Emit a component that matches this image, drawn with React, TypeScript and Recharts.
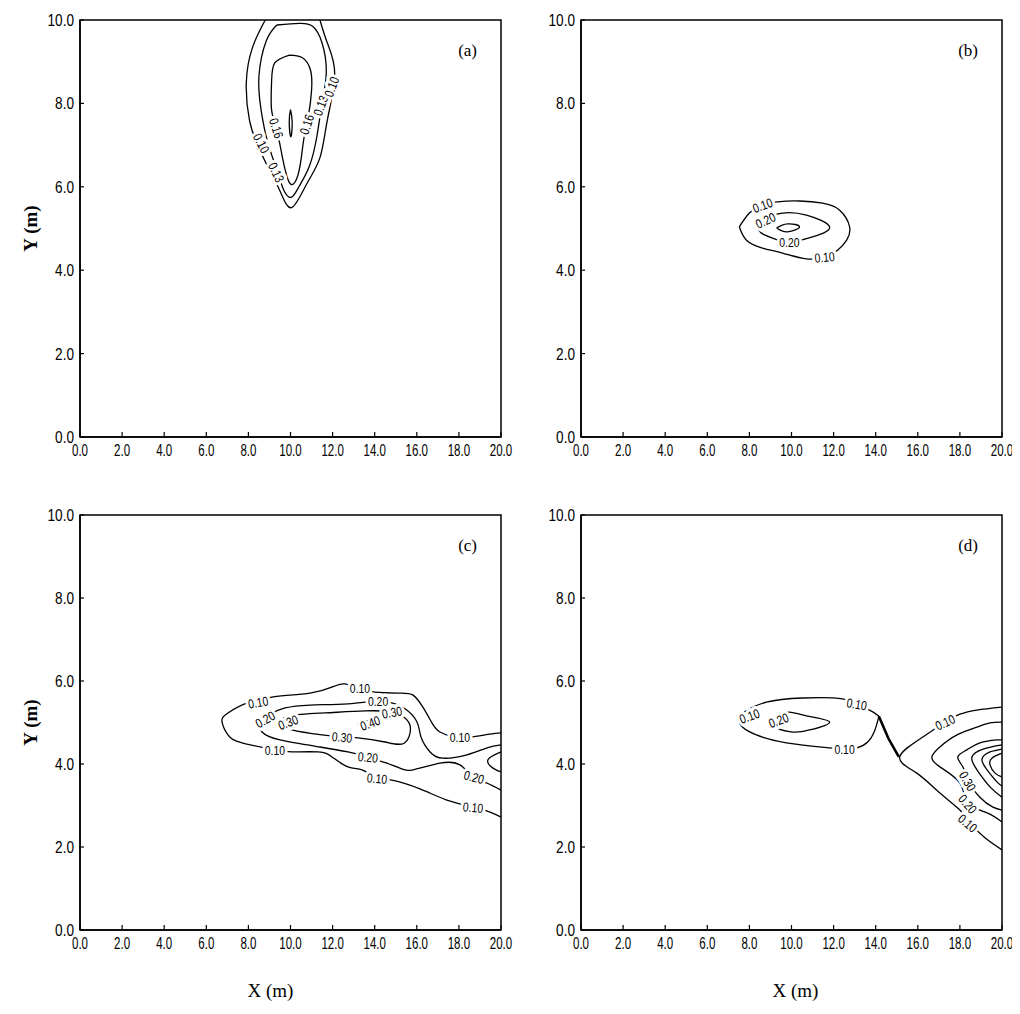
import React from 'react'
import { ScatterChart, Scatter, XAxis, YAxis, ReferenceArea, Label } from 'recharts'

type Tag = { x: number; y: number; text: string; angle: number }

const xTicks = [0, 2, 4, 6, 8, 10, 12, 14, 16, 18, 20]
const yTicks = [0, 2, 4, 6, 8, 10]

// panel (a) contours, [x, y] in metres
const a010 = [[8.8, 10.0], [8.2, 9.35], [7.9, 8.5], [8.05, 7.6], [8.4, 7.05], [8.9, 6.5], [9.5, 5.9], [10.05, 5.5], [10.75, 6.05], [11.4, 6.7], [11.75, 7.6], [12.1, 8.7], [11.75, 9.45], [11.4, 10.0]]
const a013 = [[9.35, 9.88], [8.85, 9.5], [8.5, 8.65], [8.6, 7.85], [8.9, 7.1], [9.35, 6.4], [9.7, 5.9], [10.05, 5.75], [10.4, 6.0], [10.9, 6.5], [11.25, 7.2], [11.5, 8.0], [11.7, 8.75], [11.5, 9.45], [11.05, 9.85], [10.4, 9.92], [9.35, 9.88]]
const a016 = [[9.95, 9.16], [9.25, 8.97], [9.1, 8.5], [9.1, 7.85], [9.35, 7.35], [9.6, 6.75], [9.95, 6.1], [10.3, 6.2], [10.5, 6.65], [10.65, 7.2], [10.85, 7.7], [11.0, 8.3], [10.95, 8.8], [10.55, 9.1], [9.95, 9.16]]
const a019 = [[10.0, 7.85], [10.08, 7.55], [10.02, 7.2], [9.94, 7.55], [10.0, 7.85]]
const labelsA: Tag[] = [
  { x: 8.63, y: 7.05, text: '0.10', angle: 62 },
  { x: 9.34, y: 6.35, text: '0.13', angle: 65 },
  { x: 9.34, y: 7.41, text: '0.16', angle: 72 },
  { x: 10.76, y: 7.5, text: '0.16', angle: -72 },
  { x: 11.42, y: 7.95, text: '0.13', angle: -70 },
  { x: 11.94, y: 8.4, text: '0.10', angle: -70 },
]

// panel (b)
const b010 = [[7.52, 5.04], [8.0, 5.37], [8.57, 5.56], [9.33, 5.64], [10.38, 5.66], [11.48, 5.61], [12.29, 5.44], [12.76, 5.04], [12.62, 4.72], [12.19, 4.48], [11.57, 4.32], [10.71, 4.27], [9.57, 4.41], [8.62, 4.53], [7.86, 4.72], [7.52, 5.04]]
const b020 = [[8.38, 5.01], [8.71, 5.23], [9.57, 5.37], [10.71, 5.32], [11.81, 5.04], [11.0, 4.8], [9.9, 4.68], [9.1, 4.77], [8.57, 4.89], [8.38, 5.01]]
const b030 = [[9.29, 5.01], [9.81, 5.11], [10.38, 5.04], [9.81, 4.92], [9.29, 5.01]]
const labelsB: Tag[] = [
  { x: 8.62, y: 5.56, text: '0.10', angle: -20 },
  { x: 8.76, y: 5.2, text: '0.20', angle: -25 },
  { x: 9.9, y: 4.68, text: '0.20', angle: 0 },
  { x: 11.57, y: 4.32, text: '0.10', angle: -5 },
]

// panel (c)
const c010 = [[20.0, 4.75], [19.48, 4.72], [18.53, 4.65], [17.81, 4.65], [17.1, 4.77], [16.72, 4.99], [16.29, 5.37], [15.82, 5.66], [15.2, 5.71], [14.01, 5.73], [13.21, 5.83], [12.59, 5.93], [12.11, 5.88], [10.93, 5.71], [9.12, 5.61], [8.46, 5.49], [7.98, 5.47], [7.03, 5.23], [6.75, 5.01], [7.03, 4.7], [7.7, 4.51], [9.26, 4.34], [10.07, 4.29], [11.31, 4.29], [11.97, 4.17], [12.73, 3.93], [13.4, 3.86], [14.01, 3.69], [14.82, 3.61], [16.15, 3.4], [17.43, 3.13], [18.67, 2.96], [19.48, 2.84], [20.0, 2.72]]
const c020 = [[20.0, 4.46], [19.34, 4.39], [18.38, 4.22], [17.24, 4.14], [16.63, 4.29], [16.2, 4.65], [16.01, 5.01], [15.44, 5.33], [14.82, 5.47], [14.16, 5.52], [12.73, 5.45], [10.93, 5.42], [9.74, 5.35], [9.03, 5.2], [8.55, 5.01], [8.65, 4.77], [9.5, 4.58], [11.4, 4.41], [12.73, 4.29], [13.68, 4.17], [14.39, 4.05], [15.2, 3.9], [15.82, 3.86], [17.1, 4.02], [18.05, 3.98], [18.67, 3.69], [19.33, 3.54], [20.0, 3.37]]
const c030 = [[9.41, 4.99], [9.98, 5.16], [11.64, 5.23], [13.54, 5.28], [14.82, 5.25], [15.45, 5.1], [15.7, 4.85], [15.4, 4.5], [14.49, 4.53], [13.21, 4.63], [12.45, 4.65], [11.5, 4.7], [10.07, 4.82], [9.41, 4.99]]
const c030edge = [[20.0, 4.29], [19.38, 4.1], [19.62, 3.9], [20.0, 3.81]]
const c040 = [[13.2, 4.95], [14.0, 5.12], [14.6, 5.2], [14.1, 5.03], [13.2, 4.95]]
const labelsC: Tag[] = [
  { x: 8.46, y: 5.49, text: '0.10', angle: -10 },
  { x: 13.3, y: 5.83, text: '0.10', angle: 0 },
  { x: 18.05, y: 4.65, text: '0.10', angle: 0 },
  { x: 9.26, y: 4.34, text: '0.10', angle: 0 },
  { x: 14.11, y: 3.66, text: '0.10', angle: 5 },
  { x: 18.67, y: 2.96, text: '0.10', angle: 5 },
  { x: 8.79, y: 5.08, text: '0.20', angle: -30 },
  { x: 14.16, y: 5.52, text: '0.20', angle: 0 },
  { x: 13.68, y: 4.17, text: '0.20', angle: 5 },
  { x: 18.72, y: 3.69, text: '0.20', angle: 15 },
  { x: 9.88, y: 5.01, text: '0.30', angle: -20 },
  { x: 14.82, y: 5.25, text: '0.30', angle: -10 },
  { x: 12.45, y: 4.65, text: '0.30', angle: 5 },
  { x: 13.78, y: 4.99, text: '0.40', angle: -20 },
]

// panel (d)
const d010left = [[14.15, 5.15], [13.71, 5.3], [13.1, 5.42], [12.43, 5.57], [10.52, 5.59], [8.81, 5.49], [7.76, 5.25], [7.52, 5.06], [7.67, 4.89], [8.33, 4.7], [9.76, 4.51], [11.81, 4.39], [12.52, 4.36], [13.1, 4.39], [13.62, 4.53], [13.95, 4.8], [14.15, 5.15]]
const d010neck = [[14.15, 5.15], [14.6, 4.62], [15.1, 4.17]]
const d020left = [[9.05, 5.01], [9.33, 5.16], [9.9, 5.25], [10.71, 5.16], [11.81, 5.01], [10.86, 4.82], [10.05, 4.77], [9.29, 4.87], [9.05, 5.01]]
const d010right = [[20.0, 5.37], [18.81, 5.3], [18.0, 5.2], [17.29, 5.01], [16.24, 4.65], [15.14, 4.17], [15.95, 3.78], [17.05, 3.3], [18.0, 2.89], [18.48, 2.58], [19.19, 2.22], [20.0, 1.93]]
const d020right = [[20.0, 5.01], [19.43, 4.99], [18.81, 4.89], [17.86, 4.7], [17.05, 4.41], [16.67, 4.17], [17.05, 3.93], [18.0, 3.54], [18.38, 3.06], [19.29, 2.82], [20.0, 2.6]]
const d030right = [[20.0, 4.58], [19.76, 4.58], [18.95, 4.51], [18.33, 4.34], [17.9, 4.17], [18.14, 3.93], [18.38, 3.61], [18.95, 3.2], [19.57, 2.96], [20.0, 2.89]]
const d040right = [[20.0, 4.46], [19.1, 4.36], [18.57, 4.17], [18.81, 3.86], [19.43, 3.45], [20.0, 3.2]]
const d050right = [[20.0, 4.36], [19.43, 4.29], [19.05, 4.12], [19.29, 3.86], [19.76, 3.57], [20.0, 3.47]]
const d060right = [[20.0, 4.26], [19.52, 4.14], [19.43, 3.98], [19.67, 3.78], [20.0, 3.69]]
const labelsD: Tag[] = [
  { x: 17.29, y: 5.01, text: '0.10', angle: -25 },
  { x: 18.38, y: 3.59, text: '0.30', angle: 60 },
  { x: 18.38, y: 3.04, text: '0.20', angle: 50 },
  { x: 18.38, y: 2.58, text: '0.10', angle: 40 },
  { x: 8.0, y: 5.16, text: '0.10', angle: -20 },
  { x: 13.1, y: 5.45, text: '0.10', angle: 10 },
  { x: 12.52, y: 4.36, text: '0.10', angle: 0 },
  { x: 9.38, y: 5.06, text: '0.20', angle: -20 },
]

const toPts = (arr: number[][]) => arr.map(([x, y]) => ({ x, y }))

const SANS = "'Liberation Sans', Arial, sans-serif"
const SERIF = "'Liberation Serif', 'DejaVu Serif', serif"

const Empty = () => <g />

const TagShape = (props: any) => {
  const { cx, cy, payload } = props
  return (
    <g transform={`translate(${cx} ${cy}) rotate(${payload.angle}) scale(0.8 1)`}>
      <text
        x={0}
        y={0}
        textAnchor="middle"
        dominantBaseline="central"
        fontFamily={SANS}
        fontSize={13}
        fill="#000"
        stroke="#fff"
        strokeWidth={7}
        strokeLinejoin="round"
        paintOrder="stroke"
      >
        {payload.text}
      </text>
    </g>
  )
}

const XTick = (props: any) => {
  const { x, y, payload } = props
  return (
    <g>
      <line x1={x} x2={x} y1={y - 8} y2={y - 13} stroke="#000" strokeWidth={1.2} />
      <g transform={`translate(${x} ${y + 11}) scale(0.72 1)`}>
        <text x={0} y={0} textAnchor="middle" fontFamily={SANS} fontSize={16} fill="#000">
          {payload.value.toFixed(1)}
        </text>
      </g>
    </g>
  )
}

const YTick = (props: any) => {
  const { x, y, payload } = props
  return (
    <g>
      <line x1={x + 6} x2={x + 10} y1={y} y2={y} stroke="#000" strokeWidth={1.2} />
      <g transform={`translate(${x} ${y + 6}) scale(0.8 1)`}>
        <text x={0} y={0} textAnchor="end" fontFamily={SANS} fontSize={17} fill="#000">
          {payload.value.toFixed(1)}
        </text>
      </g>
    </g>
  )
}

interface PanelProps {
  tag: string
  contours: number[][][]
  thick?: number[][][]
  labels: Tag[]
  left: number
  top: number
  plotHeight: number
  yTitle?: boolean
  xTitle?: boolean
  xTitleShift?: number
}

function Panel({ tag, contours, thick = [], labels, left, top, plotHeight, yTitle, xTitle, xTitleShift = 0 }: PanelProps) {
  const bottom = xTitle ? 45 : 21
  const height = 12 + plotHeight + 30 + bottom
  return (
    <div style={{ position: 'absolute', left, top }}>
      <ScatterChart width={511} height={height} margin={{ top: 12, right: 18, bottom, left: 22 }} style={{ overflow: 'visible' }}>
        <XAxis
          type="number"
          dataKey="x"
          domain={[0, 20]}
          ticks={xTicks}
          height={30}
          tickSize={0}
          tickMargin={8}
          tickLine={false}
          axisLine={{ stroke: '#000', strokeWidth: 1.5 }}
          tick={<XTick />}
          interval={0}
        >
          {xTitle && (
            <Label
              content={(p: any) => {
                const vb = p.viewBox
                const cx = vb.x + vb.width / 2 + xTitleShift
                return (
                  <text x={cx} y={vb.y + 60} textAnchor="middle" dominantBaseline="central" fontFamily={SERIF} fontSize={19} fill="#000">
                    X (m)
                  </text>
                )
              }}
            />
          )}
        </XAxis>
        <YAxis
          type="number"
          dataKey="y"
          domain={[0, 10]}
          ticks={yTicks}
          width={50}
          tickSize={0}
          tickMargin={6}
          tickLine={false}
          axisLine={{ stroke: '#000', strokeWidth: 1.5 }}
          tick={<YTick />}
          interval={0}
        >
          {yTitle && (
            <Label
              content={(p: any) => {
                const vb = p.viewBox
                const cx = vb.x
                const cy = vb.y + vb.height / 2
                return (
                  <text x={cx} y={cy} transform={`rotate(-90 ${cx} ${cy})`} textAnchor="middle" dominantBaseline="central" fontFamily={SERIF} fontWeight="bold" fontSize={19} fill="#000">
                    Y (m)
                  </text>
                )
              }}
            />
          )}
        </YAxis>
        <ReferenceArea x1={0} x2={20} y1={0} y2={10} fill="none" stroke="#000" strokeWidth={1.5} fillOpacity={0}>
          <Label value={tag} position="insideTopRight" offset={24} fontFamily={SERIF} fontSize={17} fill="#000" />
        </ReferenceArea>
        {contours.map((c, i) => (
          <Scatter
            key={`c${i}`}
            data={toPts(c)}
            line={{ stroke: '#000', strokeWidth: 1.3 }}
            lineJointType="natural"
            shape={<Empty />}
            fill="none"
            isAnimationActive={false}
          />
        ))}
        {thick.map((c, i) => (
          <Scatter
            key={`t${i}`}
            data={toPts(c)}
            line={{ stroke: '#000', strokeWidth: 2.6 }}
            lineJointType="linear"
            shape={<Empty />}
            fill="none"
            isAnimationActive={false}
          />
        ))}
        <Scatter data={labels} shape={<TagShape />} isAnimationActive={false} />
      </ScatterChart>
    </div>
  )
}

export default function App() {
  return (
    <div style={{ position: 'relative', height: 996, background: '#fff' }}>
      <Panel tag="(a)" contours={[a010, a013, a016, a019]} labels={labelsA} left={0} top={0} plotHeight={417} yTitle />
      <Panel tag="(b)" contours={[b010, b020, b030]} labels={labelsB} left={501} top={0} plotHeight={417} />
      <Panel
        tag="(c)"
        contours={[c010, c020, c030, c030edge, c040]}
        labels={labelsC}
        left={0}
        top={495}
        plotHeight={415}
        yTitle
        xTitle
        xTitleShift={-20}
      />
      <Panel
        tag="(d)"
        contours={[d010left, d020left, d010right, d020right, d030right, d040right, d050right, d060right]}
        thick={[d010neck]}
        labels={labelsD}
        left={501}
        top={495}
        plotHeight={415}
        xTitle
        xTitleShift={4}
      />
    </div>
  )
}
